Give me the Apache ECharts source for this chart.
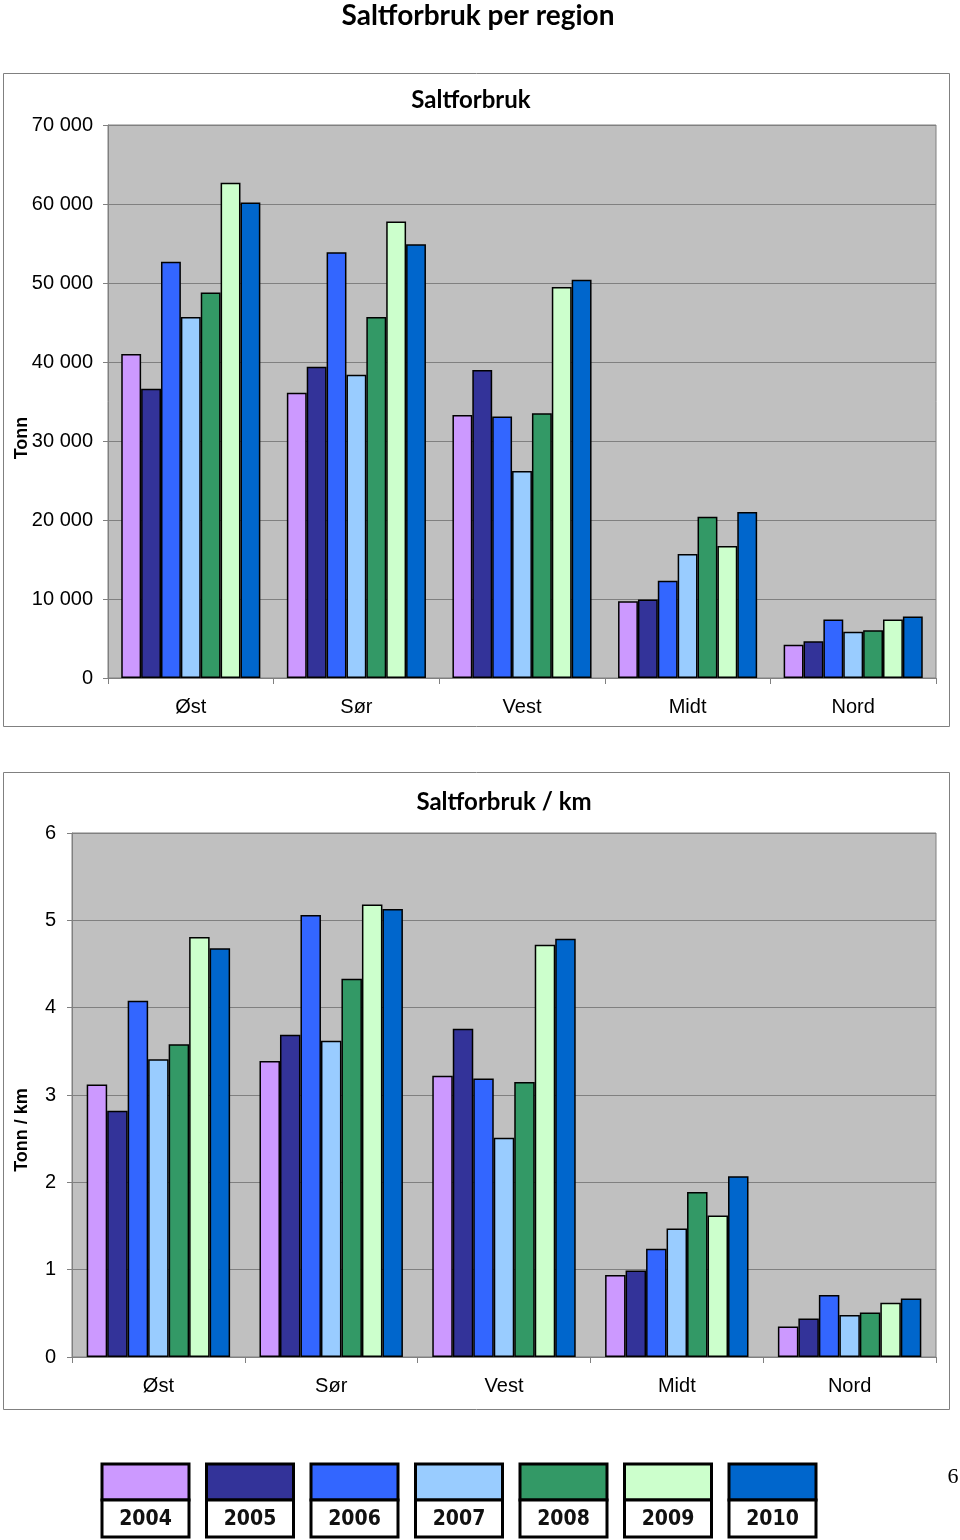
<!DOCTYPE html>
<html>
<head>
<meta charset="utf-8">
<script src="https://cdn.jsdelivr.net/npm/echarts@6/dist/echarts.min.js"></script>
<style>
html,body{margin:0;padding:0;background:#fff;}
#c{width:960px;height:1540px;}
</style>
</head>
<body>
<div id="c"></div>
<script>
const categories = ['Øst', 'Sør', 'Vest', 'Midt', 'Nord'];
const years = ['2004', '2005', '2006', '2007', '2008', '2009', '2010'];
const colors = ['#CC99FF', '#333399', '#3366FF', '#99CCFF', '#339966', '#CCFFCC', '#0066CC'];

// Saltforbruk (tonn) per region, one array per year
const tonn2004 = [41000, 36100, 33300, 9700, 4200];
const tonn2005 = [36600, 39400, 39000, 9950, 4650];
const tonn2006 = [52700, 53900, 33100, 12300, 7400];
const tonn2007 = [45700, 38400, 26200, 15700, 5850];
const tonn2008 = [48800, 45700, 33500, 20400, 6050];
const tonn2009 = [62700, 57800, 49500, 16700, 7400];
const tonn2010 = [60200, 54900, 50400, 21000, 7800];

// Saltforbruk per km (tonn/km)
const km2004 = [3.12, 3.39, 3.22, 0.94, 0.35];
const km2005 = [2.82, 3.69, 3.76, 0.99, 0.44];
const km2006 = [4.08, 5.06, 3.19, 1.24, 0.71];
const km2007 = [3.41, 3.62, 2.51, 1.47, 0.48];
const km2008 = [3.58, 4.33, 3.15, 1.89, 0.51];
const km2009 = [4.81, 5.18, 4.72, 1.62, 0.62];
const km2010 = [4.68, 5.13, 4.79, 2.07, 0.67];

const tonnTicks = [0, 10000, 20000, 30000, 40000, 50000, 60000, 70000];
const kmTicks = [0, 1, 2, 3, 4, 5, 6];

const tonnData = [tonn2004, tonn2005, tonn2006, tonn2007, tonn2008, tonn2009, tonn2010];
const kmData = [km2004, km2005, km2006, km2007, km2008, km2009, km2010];

const chart = echarts.init(document.getElementById('c'));

const axisFont = '"Liberation Sans", Arial, sans-serif';
const titleFont = 'Lato, "Open Sans", sans-serif';

function fmt(v) {
  return String(v).replace(/\B(?=(\d{3})+(?!\d))/g, ' ');
}

const series = [];
years.forEach((y, i) => {
  series.push({
    name: y, type: 'bar', xAxisIndex: 0, yAxisIndex: 0,
    data: tonnData[i], barGap: '0%', barCategoryGap: '16%',
    itemStyle: { color: colors[i], borderColor: '#000', borderWidth: 1.5 },
    emphasis: { disabled: true }
  });
  series.push({
    name: y, type: 'bar', xAxisIndex: 1, yAxisIndex: 1,
    data: kmData[i], barGap: '0%', barCategoryGap: '17%',
    itemStyle: { color: colors[i], borderColor: '#000', borderWidth: 1.5 },
    emphasis: { disabled: true }
  });
});

// legend drawn as boxes (colour box above year box)
const legendGraphics = [];
years.forEach((y, i) => {
  const x = 102 + i * 104.5;
  legendGraphics.push({
    type: 'rect', shape: { x: x, y: 1464, width: 87, height: 36 },
    style: { fill: colors[i], stroke: '#000', lineWidth: 3 }
  });
  legendGraphics.push({
    type: 'rect', shape: { x: x, y: 1500, width: 87, height: 37 },
    style: { fill: '#fff', stroke: '#000', lineWidth: 3 }
  });
  legendGraphics.push({
    type: 'text', x: x + 43.5, y: 1520,
    style: { text: y, fill: '#111', font: 'bold 21px "DejaVu Sans Condensed", "DejaVu Sans", sans-serif', textAlign: 'center', textVerticalAlign: 'middle' }
  });
});

const nameFont = 'bold 18px "Liberation Sans", Arial, sans-serif';

const option = {
  animation: false,
  backgroundColor: '#fff',
  title: [
    { text: 'Saltforbruk per region', left: 473, top: -3, textAlign: 'center',
      textStyle: { fontFamily: titleFont, fontWeight: 'bold', fontSize: 28, color: '#000' } },
    { text: 'Saltforbruk', left: 466, top: 83, textAlign: 'center',
      textStyle: { fontFamily: titleFont, fontWeight: 'bold', fontSize: 24, color: '#000' } },
    { text: 'Saltforbruk / km', left: 499, top: 785, textAlign: 'center',
      textStyle: { fontFamily: titleFont, fontWeight: 'bold', fontSize: 24, color: '#000' } }
  ],
  grid: [
    { left: 108, right: 24, top: 125, bottom: 1540 - 678, show: true,
      backgroundColor: '#C0C0C0', borderColor: '#808080', borderWidth: 1 },
    { left: 72, right: 24, top: 833, bottom: 1540 - 1357, show: true,
      backgroundColor: '#C0C0C0', borderColor: '#808080', borderWidth: 1 }
  ],
  xAxis: [0, 1].map(g => ({
    type: 'category', gridIndex: g, data: categories,
    axisLine: { show: true, lineStyle: { color: '#808080', width: 1 } },
    axisTick: { show: true, length: 6, lineStyle: { color: '#808080' } },
    axisLabel: { fontFamily: axisFont, fontSize: 20, color: '#000', margin: 19 }
  })),
  yAxis: [
    { type: 'value', gridIndex: 0, min: tonnTicks[0], max: tonnTicks[tonnTicks.length - 1], interval: 10000,
      axisLine: { show: true, lineStyle: { color: '#808080' } },
      axisTick: { show: true, length: 5, lineStyle: { color: '#808080' } },
      splitLine: { show: true, lineStyle: { color: '#808080', width: 1 } },
      axisLabel: { fontFamily: axisFont, fontSize: 20, color: '#000', margin: 15, formatter: fmt } },
    { type: 'value', gridIndex: 1, min: kmTicks[0], max: kmTicks[kmTicks.length - 1], interval: 1,
      axisLine: { show: true, lineStyle: { color: '#808080' } },
      axisTick: { show: true, length: 5, lineStyle: { color: '#808080' } },
      splitLine: { show: true, lineStyle: { color: '#808080', width: 1 } },
      axisLabel: { fontFamily: axisFont, fontSize: 20, color: '#000', margin: 16 } }
  ],
  series: series,
  graphic: [
    { type: 'rect', shape: { x: 3.5, y: 73.5, width: 946, height: 653 },
      style: { fill: 'none', stroke: '#808080', lineWidth: 1 }, z: 0 },
    { type: 'rect', shape: { x: 3.5, y: 772.5, width: 946, height: 637 },
      style: { fill: 'none', stroke: '#808080', lineWidth: 1 }, z: 0 },
    { type: 'text', x: 22, y: 438, rotation: Math.PI / 2,
      style: { text: 'Tonn', fill: '#000', font: nameFont, textAlign: 'center', textVerticalAlign: 'middle' } },
    { type: 'text', x: 22, y: 1130, rotation: Math.PI / 2,
      style: { text: 'Tonn / km', fill: '#000', font: nameFont, textAlign: 'center', textVerticalAlign: 'middle' } },
    { type: 'text', x: 953, y: 1477,
      style: { text: '6', fill: '#000', font: '22px "Liberation Serif", serif', textAlign: 'center', textVerticalAlign: 'middle' } }
  ].concat(legendGraphics)
};

chart.setOption(option);
</script>
</body>
</html>
